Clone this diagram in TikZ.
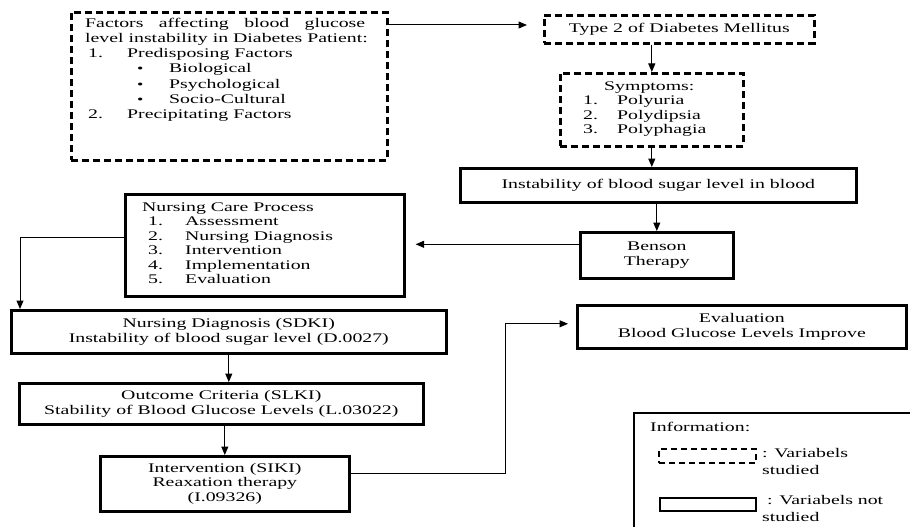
\documentclass[tikz,border=0pt]{standalone}
\usepackage{fontspec}
\setmainfont{Liberation Serif}[FakeStretch=1.5]
\usetikzlibrary{arrows.meta}
\newcommand\bodyfont{\fontsize{13.2}{14.5}\selectfont}
\newcommand\firstl{\rule{0pt}{10pt}}
\begin{document}
\begin{tikzpicture}[x=1pt,y=-1pt,
  solidbox/.style={draw, line width=2.6pt, inner sep=0pt, anchor=north west, align=center, font=\bodyfont},
  dashbox/.style={solidbox, dash pattern=on 7pt off 4pt},
  plaintext/.style={inner sep=0pt, anchor=north west, align=left, font=\bodyfont},
  arr/.style={line width=1pt, -{Triangle[length=8.5pt,width=7pt]}},
  conn/.style={line width=1pt}]
\clip (0,0) rectangle (910,527);
\fill[white] (0,0) rectangle (910,527);

% top left factors box
\node[dashbox, minimum width=316pt, minimum height=148pt] (fac) at (70,11) {};
\node[plaintext, font=\fontsize{13.2}{15.2}\selectfont] (facT) at (85,17)
 {\firstl\makebox[280pt][s]{Factors affecting blood glucose}\\
  level instability in Diabetes Patient:\\
  \hspace*{3pt}\makebox[39pt][l]{1.}Predisposing Factors\\
  \hspace*{52pt}\makebox[32pt][l]{\large\textbullet}Biological\\
  \hspace*{52pt}\makebox[32pt][l]{\large\textbullet}Psychological\\
  \hspace*{52pt}\makebox[32pt][l]{\large\textbullet}Socio-Cultural\\
  \hspace*{3pt}\makebox[39pt][l]{2.}Precipitating Factors};

% right column
\node[dashbox, minimum width=270pt, minimum height=28pt] (dm) at (543,14) {Type 2 of Diabetes Mellitus};
\node[dashbox, minimum width=183pt, minimum height=73pt] (sym) at (559,72) {};
\node[plaintext] (symT) at (583,80)
 {\firstl\hspace*{21pt}Symptoms:\\
  \makebox[34pt][l]{1.}Polyuria\\
  \makebox[34pt][l]{2.}Polydipsia\\
  \makebox[34pt][l]{3.}Polyphagia};
\node[solidbox, minimum width=396pt, minimum height=34pt] (inst) at (459,167) {Instability of blood sugar level in blood};
\node[solidbox, minimum width=153pt, minimum height=46pt] (ben) at (579,231) {Benson\\Therapy};

% nursing care process
\node[solidbox, minimum width=279pt, minimum height=102pt] (ncp) at (124,193) {};
\node[plaintext] (ncpT) at (142,201)
 {\firstl Nursing Care Process\\
  \hspace*{6pt}\makebox[37pt][l]{1.}Assessment\\
  \hspace*{6pt}\makebox[37pt][l]{2.}Nursing Diagnosis\\
  \hspace*{6pt}\makebox[37pt][l]{3.}Intervention\\
  \hspace*{6pt}\makebox[37pt][l]{4.}Implementation\\
  \hspace*{6pt}\makebox[37pt][l]{5.}Evaluation};

% left column
\node[solidbox, minimum width=435pt, minimum height=43pt] (nd) at (10,309) {Nursing Diagnosis (SDKI)\\Instability of blood sugar level (D.0027)};
\node[solidbox, minimum width=404pt, minimum height=41pt] (oc) at (18,382) {Outcome Criteria (SLKI)\\Stability of Blood Glucose Levels (L.03022)};
\node[solidbox, minimum width=249pt, minimum height=55pt] (iv) at (99,455) {Intervention (SIKI)\\Reaxation therapy\\(I.09326)};
\node[solidbox, minimum width=329pt, minimum height=43pt] (ev) at (576,304) {Evaluation\\Blood Glucose Levels Improve};

% legend
\node[draw, line width=2pt, inner sep=0pt, anchor=north west, minimum width=400pt, minimum height=200pt] (leg) at (633,412) {};
\node[plaintext] (legT) at (650,421) {\firstl Information:};
\node[draw, line width=2.4pt, dash pattern=on 6pt off 4pt, inner sep=0pt, anchor=north west, minimum width=97pt, minimum height=14pt] (legd) at (658,448) {};
\node[plaintext, font=\fontsize{13.2}{17}\selectfont] (legdT) at (762,447) {\firstl: Variabels\\studied};
\node[draw, line width=2.4pt, inner sep=0pt, anchor=north west, minimum width=96pt, minimum height=13pt] (legs) at (659,497) {};
\node[plaintext, font=\fontsize{13.2}{17}\selectfont] (legsT) at (762,494) {\firstl\hspace*{5pt}: Variabels not\\studied};

% connectors
\draw[arr, shorten >=16pt] ([yshift=-14pt]fac.north east) -- ([yshift=-14pt]fac.north east -| dm.west);
\draw[arr] (sym.north |- dm.south) -- (sym.north);
\draw[arr] (sym.south) -- (sym.south |- inst.north);
\draw[arr] (ben.north |- inst.south) -- (ben.north);
\draw[arr, shorten >=10pt] ([yshift=11pt]ben.west) -- ([yshift=11pt]ben.west -| ncp.east);
\draw[arr] ([yshift=8pt]ncp.west) -| ([xshift=10pt]nd.north west);
\draw[arr] (nd.south) -- (nd.south |- oc.north);
\draw[arr] (iv.north |- oc.south) -- (iv.north);
\draw[arr, shorten >=8pt] ([yshift=10pt]iv.east) -- ++(155,0) |- ([yshift=3pt]ev.west);
\end{tikzpicture}
\end{document}
